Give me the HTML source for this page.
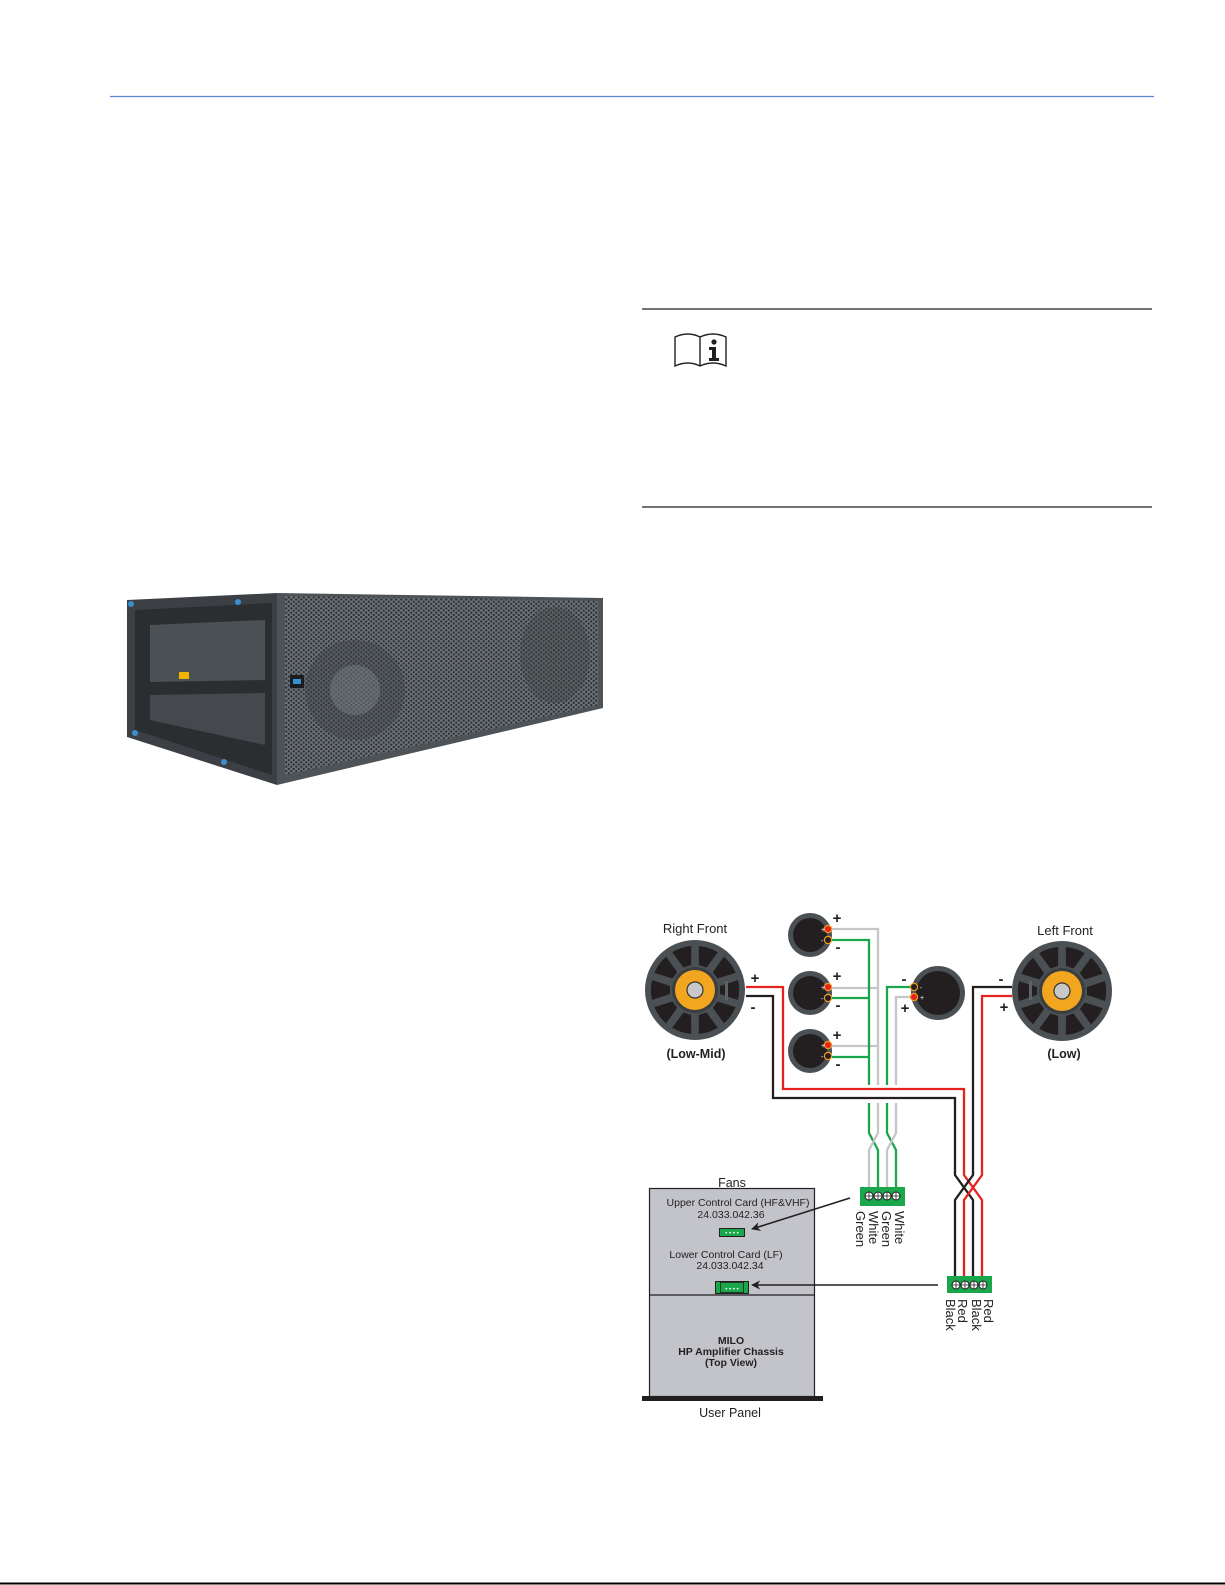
<!DOCTYPE html>
<html><head><meta charset="utf-8"><style>
html,body{margin:0;padding:0;background:#fff}
svg{display:block}
text{font-family:"Liberation Sans",Arial,sans-serif}
</style></head><body>
<svg width="1225" height="1585" viewBox="0 0 1225 1585" xmlns="http://www.w3.org/2000/svg">
<defs>
<pattern id="mesh" width="5" height="4.4" patternUnits="userSpaceOnUse">
<rect width="5" height="4.4" fill="#6a7075"/>
<circle cx="1.25" cy="1.1" r="1.1" fill="#2a2d30"/>
<circle cx="3.75" cy="3.3" r="1.1" fill="#2a2d30"/>
</pattern>
<g id="woof">
<circle r="50" fill="#4b5054"/>
<g fill="#231f20">
<path id="wd" d="M25,-4 L43,-10 A44,44 0 0 1 43,10 L25,4 Z"/>
<use href="#wd" transform="rotate(36)"/><use href="#wd" transform="rotate(72)"/>
<use href="#wd" transform="rotate(108)"/><use href="#wd" transform="rotate(144)"/>
<use href="#wd" transform="rotate(180)"/><use href="#wd" transform="rotate(216)"/>
<use href="#wd" transform="rotate(252)"/><use href="#wd" transform="rotate(288)"/>
<use href="#wd" transform="rotate(324)"/>
</g>
<circle r="23" fill="#3a3e41"/>
<circle r="20" fill="#f2a51f"/>
<circle r="8" fill="#c8c8c8" stroke="#333" stroke-width="1.2"/>
</g>
<g id="tw">
<circle r="22" fill="#4b5054"/>
<circle r="17" fill="#231f20"/>
<circle cx="18" cy="-6" r="3.6" fill="#e42320" stroke="#f29a1f" stroke-width="1.2"/>
<circle cx="18" cy="5" r="3.6" fill="#231f20" stroke="#f29a1f" stroke-width="1.2"/>
<text x="11" y="-3" font-size="7" fill="#fff">+</text>
<text x="11" y="8" font-size="7" fill="#fff">-</text>
</g>
<marker id="ar" viewBox="0 0 10 10" refX="9" refY="5" markerWidth="9" markerHeight="9" orient="auto" markerUnits="userSpaceOnUse"><path d="M0,0 L10,5 L0,10 L3,5 Z" fill="#231f20"/></marker>
</defs>

<!-- page rules -->
<line x1="110" y1="96.5" x2="1154" y2="96.5" stroke="#5a86d0" stroke-width="1.2"/>
<line x1="642" y1="309" x2="1152" y2="309" stroke="#231f20" stroke-width="1.3"/>
<line x1="642" y1="507" x2="1152" y2="507" stroke="#231f20" stroke-width="1.3"/>
<line x1="0" y1="1583.5" x2="1225" y2="1583.5" stroke="#000" stroke-width="2"/>

<!-- info icon -->
<g fill="none" stroke="#231f20" stroke-width="1.4">
<path d="M675,337 Q688,331 700,337 Q713,331 726,337 L726,366 Q713,360 700,366 Q688,360 675,366 Z"/>
<line x1="700" y1="337" x2="700" y2="366"/>
</g>
<circle cx="714" cy="342" r="2.6" fill="#231f20"/>
<path d="M709,347 L716,347 L716,358 L719,358 L719,361 L709,361 L709,358 L712,358 L712,350 L709,350 Z" fill="#231f20"/>

<!-- speaker photo -->
<polygon points="127,600 277,593 277,785 127,737" fill="#3c4044"/>
<polygon points="135,610 272,603 272,775 135,730" fill="#2b2e31"/>
<path d="M150,625 L265,620 L265,680 L150,682 Z" fill="#4c5156"/>
<path d="M150,695 L265,693 L265,745 L150,720 Z" fill="#45494d"/>
<rect x="179" y="672" width="10" height="7" fill="#f0b400"/>
<polygon points="277,593 603,598 603,708 277,785" fill="#4d5357"/>
<polygon points="285,596 598,601 598,705 285,775" fill="url(#mesh)"/>
<circle cx="355" cy="690" r="50" fill="#3e4347" opacity="0.45"/>
<circle cx="355" cy="690" r="25" fill="#8a9095" opacity="0.35"/>
<ellipse cx="555" cy="655" rx="35" ry="48" fill="#3e4347" opacity="0.4"/>
<rect x="290" y="675" width="14" height="13" fill="#1a1d20"/>
<rect x="293" y="679" width="8" height="5" fill="#3a8fd0"/>
<circle cx="131" cy="604" r="3" fill="#3a8fd0"/><circle cx="238" cy="602" r="3" fill="#3a8fd0"/>
<circle cx="135" cy="733" r="3" fill="#3a8fd0"/><circle cx="224" cy="762" r="3" fill="#3a8fd0"/>

<!-- wiring -->
<g fill="none" stroke-width="2.3" stroke-linejoin="miter">
<polyline stroke="#c4c6ca" points="832,929 878,929 878,1085"/>
<polyline stroke="#c4c6ca" points="832,988 878,988"/>
<polyline stroke="#c4c6ca" points="832,1046 878,1046"/>
<polyline stroke="#1aa64a" points="832,940 869,940 869,1085"/>
<polyline stroke="#1aa64a" points="832,998 869,998"/>
<polyline stroke="#1aa64a" points="832,1057 869,1057"/>
<polyline stroke="#1aa64a" points="910,987 887,987 887,1085"/>
<polyline stroke="#c4c6ca" points="910,997 896,997 896,1085"/>
<polyline stroke="#1aa64a" points="869,1103 869,1133 878,1150 878,1188"/>
<polyline stroke="#c4c6ca" points="878,1103 878,1133 869,1150 869,1188"/>
<polyline stroke="#1aa64a" points="887,1103 887,1133 896,1150 896,1188"/>
<polyline stroke="#c4c6ca" points="896,1103 896,1133 887,1150 887,1188"/>
<polyline stroke="#e42320" points="746,987 783,987 783,1089 964,1089 964,1175 982,1200 982,1277"/>
<polyline stroke="#231f20" points="746,996 773,996 773,1098 955,1098 955,1175 973,1200 973,1277"/>
<polyline stroke="#231f20" points="1012,987 973,987 973,1175 955,1200 955,1277"/>
<polyline stroke="#e42320" points="1012,996 982,996 982,1175 964,1200 964,1277"/>
</g>

<use href="#woof" x="695" y="990"/>
<use href="#woof" x="1062" y="991"/>
<rect x="725" y="981" width="3" height="19" fill="#5d6266"/>
<rect x="1029" y="981" width="3" height="19" fill="#5d6266"/>
<use href="#tw" x="810" y="935"/>
<use href="#tw" x="810" y="993"/>
<use href="#tw" x="810" y="1051"/>
<g transform="translate(938,993)">
<circle r="27" fill="#4b5054"/><circle r="22" fill="#231f20"/>
<circle cx="-24" cy="-6" r="3.6" fill="#231f20" stroke="#f29a1f" stroke-width="1.2"/>
<circle cx="-24" cy="4" r="3.6" fill="#e42320" stroke="#f29a1f" stroke-width="1.2"/>
<text x="-18" y="-3" font-size="7" fill="#fff">-</text>
<text x="-18" y="7" font-size="7" fill="#fff">+</text>
</g>

<g font-size="15" font-weight="bold" fill="#231f20" text-anchor="middle">
<text x="837" y="923">+</text><text x="838" y="952">-</text>
<text x="837" y="981">+</text><text x="838" y="1010">-</text>
<text x="837" y="1040">+</text><text x="838" y="1069">-</text>
<text x="755" y="983">+</text><text x="753" y="1012">-</text>
<text x="904" y="984">-</text><text x="905" y="1013">+</text>
<text x="1001" y="984">-</text><text x="1004" y="1012">+</text>
</g>
<g font-size="13" fill="#231f20" text-anchor="middle">
<text x="695" y="933">Right Front</text>
<text x="1065" y="935">Left Front</text>
</g>
<g font-size="12.5" font-weight="bold" fill="#231f20" text-anchor="middle">
<text x="696" y="1058">(Low-Mid)</text>
<text x="1064" y="1058">(Low)</text>
</g>

<!-- connectors -->
<rect x="860" y="1187" width="45" height="19" fill="#1aa64a"/>
<g fill="#fff" stroke="#231f20" stroke-width="1"><circle cx="869" cy="1196" r="4"/><circle cx="878" cy="1196" r="4"/><circle cx="887" cy="1196" r="4"/><circle cx="896" cy="1196" r="4"/></g>
<g stroke="#231f20" stroke-width="0.8"><path d="M865,1196h8M869,1192v8M874,1196h8M878,1192v8M883,1196h8M887,1192v8M892,1196h8M896,1192v8"/></g>
<rect x="947" y="1276" width="45" height="17" fill="#1aa64a"/>
<g fill="#fff" stroke="#231f20" stroke-width="1"><circle cx="956" cy="1285" r="4"/><circle cx="965" cy="1285" r="4"/><circle cx="974" cy="1285" r="4"/><circle cx="983" cy="1285" r="4"/></g>
<g stroke="#231f20" stroke-width="0.8"><path d="M952,1285h8M956,1281v8M961,1285h8M965,1281v8M970,1285h8M974,1281v8M979,1285h8M983,1281v8"/></g>

<g font-size="13" fill="#231f20">
<text transform="translate(856,1211) rotate(90)">Green</text>
<text transform="translate(869,1211) rotate(90)">White</text>
<text transform="translate(882,1211) rotate(90)">Green</text>
<text transform="translate(895,1211) rotate(90)">White</text>
<text transform="translate(946,1299) rotate(90)">Black</text>
<text transform="translate(958,1299) rotate(90)">Red</text>
<text transform="translate(972,1299) rotate(90)">Black</text>
<text transform="translate(984,1299) rotate(90)">Red</text>
</g>

<!-- chassis -->
<rect x="649.5" y="1188.5" width="165" height="208" fill="#c2c4ca" stroke="#231f20" stroke-width="1.2"/>
<line x1="649" y1="1295" x2="815" y2="1295" stroke="#231f20" stroke-width="1.2"/>
<rect x="642" y="1396" width="181" height="5" fill="#231f20"/>
<g font-size="10.5" fill="#231f20" text-anchor="middle">
<text x="732" y="1187" font-size="12.5">Fans</text>
<text x="738" y="1206">Upper Control Card (HF&amp;VHF)</text>
<text x="731" y="1218">24.033.042.36</text>
<text x="726" y="1258">Lower Control Card (LF)</text>
<text x="730" y="1269">24.033.042.34</text>
<text x="730" y="1417" font-size="12.5">User Panel</text>
</g>
<g font-size="10.5" font-weight="bold" fill="#231f20" text-anchor="middle">
<text x="731" y="1344">MILO</text>
<text x="731" y="1355">HP Amplifier Chassis</text>
<text x="731" y="1366">(Top View)</text>
</g>
<rect x="719.5" y="1228.5" width="25" height="8" fill="#1aa64a" stroke="#231f20" stroke-width="1"/>
<text x="732" y="1235" font-size="6" fill="#fff" text-anchor="middle">• • • •</text>
<rect x="715.5" y="1281.5" width="33" height="12" fill="#1aa64a" stroke="#231f20" stroke-width="1"/>
<rect x="720.5" y="1282.5" width="23" height="10" fill="#1aa64a" stroke="#231f20" stroke-width="0.8"/>
<text x="732" y="1291" font-size="6" fill="#fff" text-anchor="middle">• • • •</text>
<line x1="850" y1="1198" x2="752" y2="1229" stroke="#231f20" stroke-width="1.6" marker-end="url(#ar)"/>
<line x1="938" y1="1285" x2="752" y2="1285" stroke="#231f20" stroke-width="1.6" marker-end="url(#ar)"/>
</svg>
</body></html>
